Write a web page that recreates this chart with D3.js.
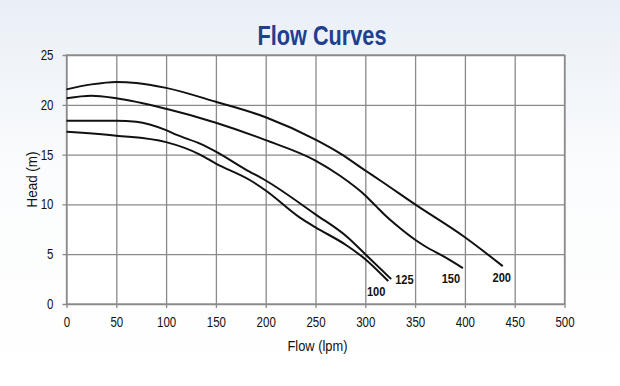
<!DOCTYPE html>
<html>
<head>
<meta charset="utf-8">
<script src="https://cdn.jsdelivr.net/npm/d3@7/dist/d3.min.js"></script>
<style>
    body { margin: 0; }
    svg { display: block; }
    text { font-family: "Liberation Sans", Arial, sans-serif; }
</style>
</head>
<body>
<script>
// tick values
var flowTicks = [0, 50, 100, 150, 200, 250, 300, 350, 400, 450, 500];
var headTicks = [0, 5, 10, 15, 20, 25];

// pump curves (flow in lpm, head in m)
var seriesNames = ["100", "125", "150", "200"];

var flow100 = [0, 50, 100, 134, 150, 184, 200, 234, 250, 281, 300, 323];
var head100 = [17.3, 16.9, 16.25, 15.0, 14.1, 12.45, 11.4, 8.7, 7.7, 5.9, 4.5, 2.3];

var flow125 = [0, 50, 70, 100, 110, 134, 150, 180, 200, 250, 281, 300, 326];
var head125 = [18.4, 18.4, 18.3, 17.45, 17.0, 16.1, 15.3, 13.5, 12.4, 9.0, 6.8, 5.0, 2.5];

var flow150 = [0, 25, 50, 100, 150, 200, 250, 275, 300, 311, 321, 335, 350, 360, 380, 398];
var head150 = [20.65, 20.9, 20.65, 19.6, 18.2, 16.45, 14.4, 12.85, 10.9, 9.8, 8.8, 7.6, 6.45, 5.8, 4.7, 3.6];

var flow200 = [0, 25, 50, 70, 100, 150, 200, 250, 275, 300, 315, 350, 400, 438];
var head200 = [21.55, 22.05, 22.3, 22.2, 21.7, 20.3, 18.75, 16.5, 15.1, 13.4, 12.4, 10.0, 6.7, 3.8];

var allFlows = [flow100, flow125, flow150, flow200];
var allHeads = [head100, head125, head150, head200];

function init() {
    var w = 620;
    var h = 386;

    var svg = d3.select("body").append("svg").attr("width", w).attr("height", h);

    // soft blue background fading to white
    var grad = svg.append("defs").append("linearGradient")
        .attr("id", "bg").attr("x1", 0).attr("y1", 0).attr("x2", 0).attr("y2", 1);
    grad.append("stop").attr("offset", "0%").attr("stop-color", "#e9eff6");
    grad.append("stop").attr("offset", "45%").attr("stop-color", "#fbfcfd");
    grad.append("stop").attr("offset", "100%").attr("stop-color", "#ffffff");
    svg.append("rect").attr("width", w).attr("height", h).attr("fill", "url(#bg)");

    var xScale = d3.scaleLinear().domain([0, 500]).range([66.5, 564.5]);
    var yScale = d3.scaleLinear().domain([0, 25]).range([304, 55]);
    var pw = xScale(500) - xScale(0);
    var ph = yScale(0) - yScale(25);

    svg.append("rect")
        .attr("x", xScale(0)).attr("y", yScale(25))
        .attr("width", pw).attr("height", ph)
        .attr("fill", "#ffffff");

    // grid with small tick stubs outside
    var xAxis = d3.axisBottom(xScale).tickValues(flowTicks).tickSizeOuter(0).tickPadding(3);
    var yAxis = d3.axisLeft(yScale).tickValues(headTicks).tickSizeOuter(0).tickPadding(3);

    var gx = svg.append("g")
        .attr("class", "axis")
        .attr("transform", "translate(0," + (yScale(0) + 4) + ")")
        .call(xAxis);
    var gy = svg.append("g")
        .attr("class", "axis")
        .attr("transform", "translate(" + (xScale(0) - 4) + ",0)")
        .call(yAxis);

    gx.selectAll(".tick line").attr("y1", 0).attr("y2", -ph - 4);
    gy.selectAll(".tick line").attr("x1", 0).attr("x2", pw + 4);

    [gx, gy].forEach(function (g) {
        g.select(".domain").remove();
        g.selectAll(".tick line").attr("stroke", "#8a8a8a").attr("stroke-width", 1.3);
        g.selectAll(".tick text")
            .attr("fill", "#111")
            .style("font-size", "14px")
            .attr("lengthAdjust", "spacingAndGlyphs")
            .attr("textLength", function (d) { return String(d).length * 6.4; });
    });

    // border
    svg.append("rect")
        .attr("x", xScale(0)).attr("y", yScale(25))
        .attr("width", pw).attr("height", ph)
        .attr("fill", "none").attr("stroke", "#8a8a8a").attr("stroke-width", 1.3);

    // curves
    var line = d3.line()
        .x(function (d) { return xScale(d[0]); })
        .y(function (d) { return yScale(d[1]); })
        .curve(d3.curveMonotoneX);

    var labelOffset = {
        "100": { dx: -12, dy: 15, anchor: "middle" },
        "125": { dx: 4, dy: 5, anchor: "start" },
        "150": { dx: -12, dy: 15, anchor: "middle" },
        "200": { dx: -1, dy: 16, anchor: "middle" }
    };

    for (var i = 0; i < seriesNames.length; i++) {
        var pts = d3.zip(allFlows[i], allHeads[i]);
        svg.append("path")
            .datum(pts)
            .attr("fill", "none")
            .attr("stroke", "#111")
            .attr("stroke-width", 2)
            .attr("stroke-linejoin", "round")
            .attr("d", line);

        var last = pts[pts.length - 1];
        var off = labelOffset[seriesNames[i]];
        svg.append("text")
            .attr("x", xScale(last[0]) + off.dx)
            .attr("y", yScale(last[1]) + off.dy)
            .attr("text-anchor", off.anchor)
            .attr("lengthAdjust", "spacingAndGlyphs")
            .attr("textLength", 18.5)
            .style("font-size", "13.5px")
            .style("font-weight", "bold")
            .attr("fill", "#111")
            .text(seriesNames[i]);
    }

    // axis labels and title
    svg.append("text")
        .attr("x", (xScale(0) + xScale(500)) / 2 + 2)
        .attr("y", 351)
        .attr("text-anchor", "middle")
        .attr("lengthAdjust", "spacingAndGlyphs")
        .attr("textLength", 60)
        .style("font-size", "14px")
        .attr("fill", "#111")
        .text("Flow (lpm)");

    svg.append("text")
        .attr("transform", "rotate(-90)")
        .attr("x", -(yScale(0) + yScale(25)) / 2)
        .attr("y", 37)
        .attr("text-anchor", "middle")
        .attr("lengthAdjust", "spacingAndGlyphs")
        .attr("textLength", 56)
        .style("font-size", "14px")
        .attr("fill", "#111")
        .text("Head (m)");

    svg.append("text")
        .attr("x", 322)
        .attr("y", 45)
        .attr("text-anchor", "middle")
        .attr("lengthAdjust", "spacingAndGlyphs")
        .attr("textLength", 129)
        .style("font-size", "28px")
        .style("font-weight", "bold")
        .attr("fill", "#213f8f")
        .text("Flow Curves");
}

window.onload = init;
</script>
</body>
</html>
